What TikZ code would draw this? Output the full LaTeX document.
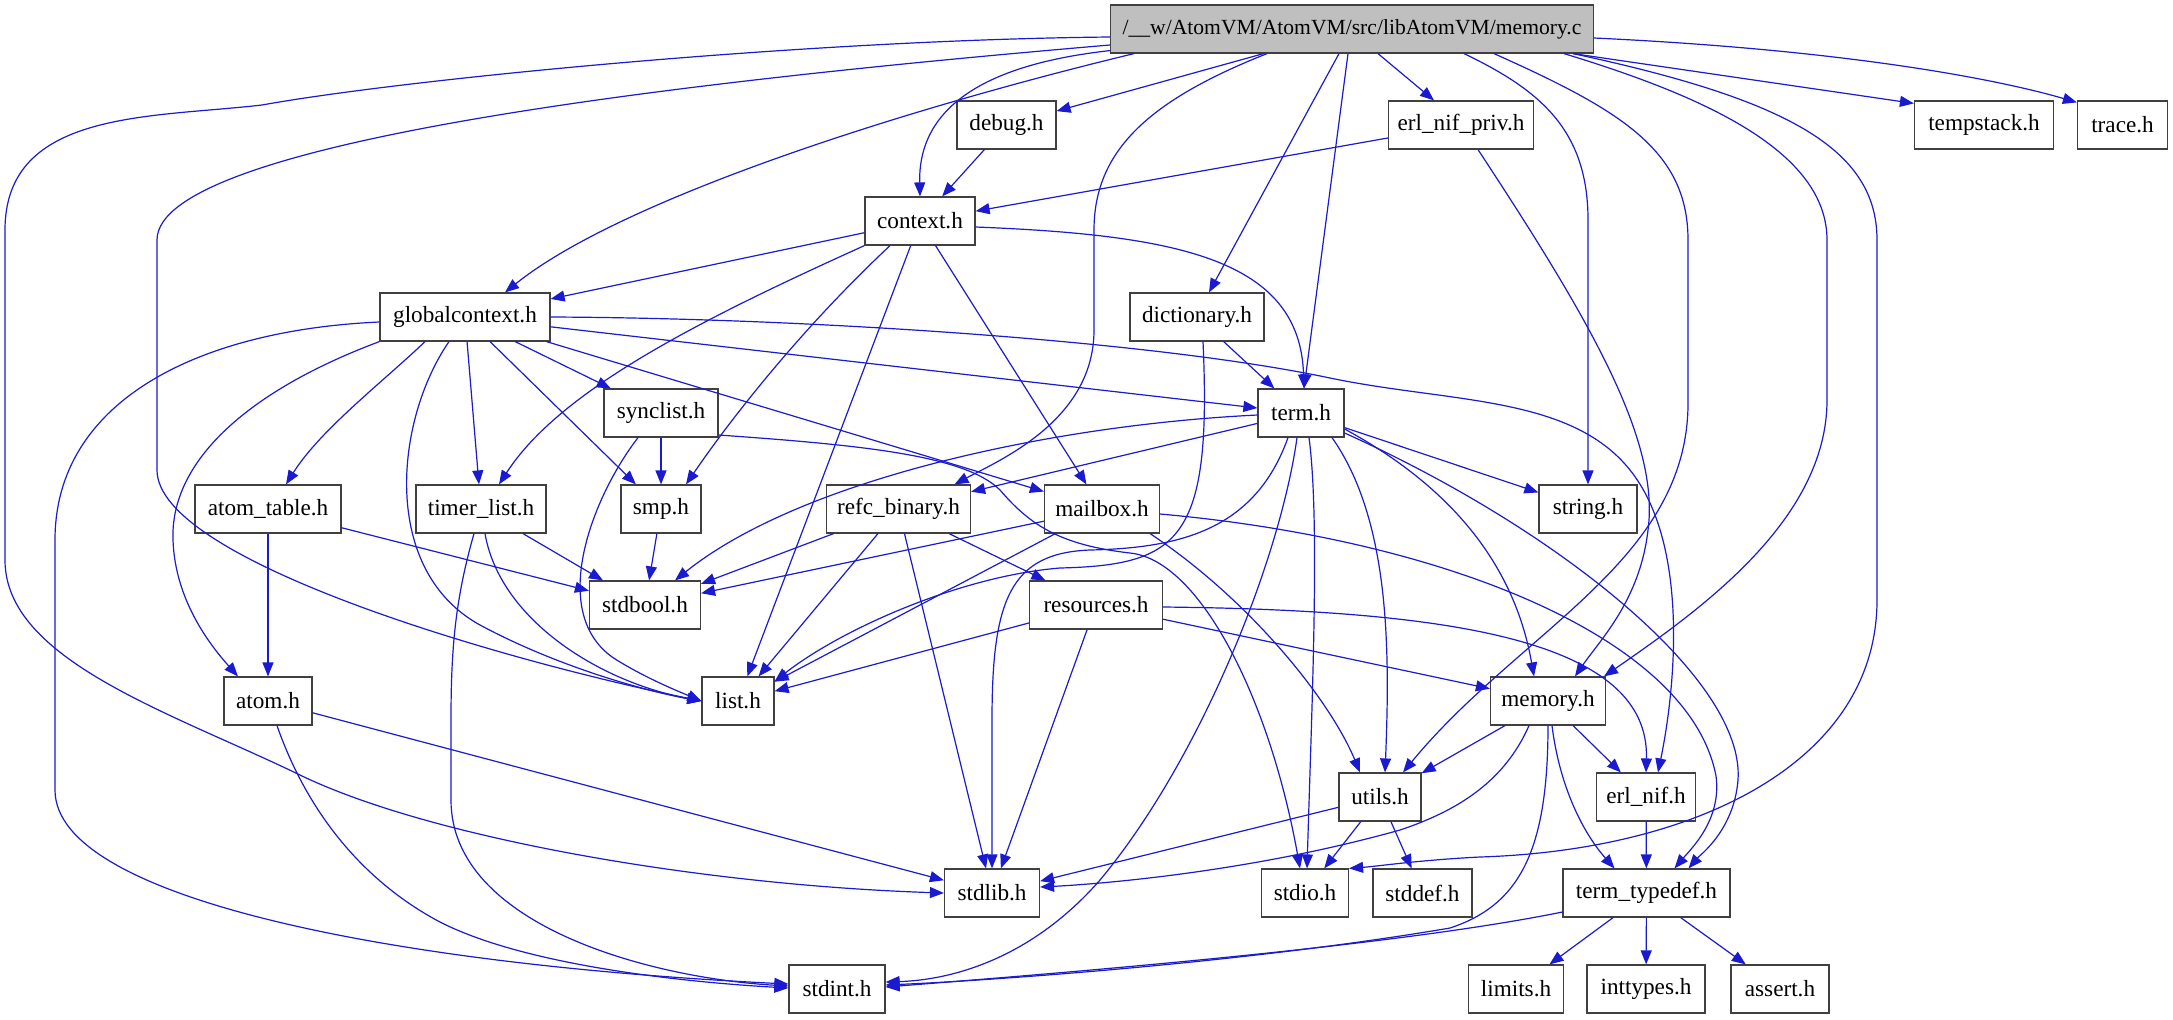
\documentclass[tikz,border=0pt]{standalone}
\usepackage{fontspec}
\setmainfont{Liberation Serif}
\usetikzlibrary{arrows.meta}
\definecolor{edgeblue}{RGB}{26,26,208}
\definecolor{rootgray}{RGB}{191,191,191}
\begin{document}
\begin{tikzpicture}[x=0.5pt, y=-0.5pt,
  hdr/.style={draw=black!75, line width=0.6pt, minimum height=24pt, inner sep=0pt,
    font=\fontsize{11.6}{13}\selectfont},
  inc/.style={draw=edgeblue, line width=0.6pt, -{Triangle[length=7pt,width=5.5pt]}}]
  \useasboundingbox (0,0) rectangle (2173,1019);
  % Rank 0: the source file
  \node[hdr, fill=rootgray, minimum width=241.5pt, font=\fontsize{10.8}{13}\selectfont] (root) at (1352,29) {/\_\_w/AtomVM/AtomVM/src/libAtomVM/memory.c};
  % Rank 1
  \node[hdr, minimum width=49.5pt] (debug) at (1006.5,125) {debug.h};
  \node[hdr, minimum width=72.5pt] (erl_nif_priv) at (1461,125) {erl\_nif\_priv.h};
  \node[hdr, minimum width=69.5pt] (tempstack) at (1984,125) {tempstack.h};
  \node[hdr, minimum width=45pt] (trace) at (2122.5,125) {trace.h};
  % Rank 2
  \node[hdr, minimum width=55pt] (context) at (920,221) {context.h};
  % Rank 3
  \node[hdr, minimum width=85pt] (globalcontext) at (465,317) {globalcontext.h};
  \node[hdr, minimum width=67pt] (dictionary) at (1197,317) {dictionary.h};
  % Rank 4
  \node[hdr, minimum width=57pt] (synclist) at (661,413) {synclist.h};
  \node[hdr, minimum width=43pt] (term) at (1301,413) {term.h};
  % Rank 5
  \node[hdr, minimum width=73pt] (atom_table) at (268,509) {atom\_table.h};
  \node[hdr, minimum width=65pt] (timer_list) at (481,509) {timer\_list.h};
  \node[hdr, minimum width=40pt] (smp) at (661,509) {smp.h};
  \node[hdr, minimum width=72pt] (refc_binary) at (898.5,509) {refc\_binary.h};
  \node[hdr, minimum width=57.5pt] (mailbox) at (1102,509) {mailbox.h};
  \node[hdr, minimum width=49pt] (string) at (1588,509) {string.h};
  % Rank 6
  \node[hdr, minimum width=55.5pt] (stdbool) at (645,605) {stdbool.h};
  \node[hdr, minimum width=66.5pt] (resources) at (1096,605) {resources.h};
  % Rank 7
  \node[hdr, minimum width=44pt] (atom) at (268,701) {atom.h};
  \node[hdr, minimum width=36pt] (list) at (738,701) {list.h};
  \node[hdr, minimum width=57.5pt] (memory) at (1548,701) {memory.h};
  % Rank 8
  \node[hdr, minimum width=41pt] (utils) at (1380,797) {utils.h};
  \node[hdr, minimum width=49.5pt] (erl_nif) at (1646,797) {erl\_nif.h};
  % Rank 9
  \node[hdr, minimum width=47.5pt] (stdlib) at (992,893) {stdlib.h};
  \node[hdr, minimum width=43.5pt] (stdio) at (1305,893) {stdio.h};
  \node[hdr, minimum width=49.5pt] (stddef) at (1422.5,893) {stddef.h};
  \node[hdr, minimum width=83.5pt] (term_typedef) at (1646.5,893) {term\_typedef.h};
  % Rank 10
  \node[hdr, minimum width=48pt] (stdint) at (837,989) {stdint.h};
  \node[hdr, minimum width=47.5pt] (limits) at (1516,989) {limits.h};
  \node[hdr, minimum width=59pt] (inttypes) at (1646,989) {inttypes.h};
  \node[hdr, minimum width=49pt] (assert) at (1780,989) {assert.h};

  % memory.c includes
  \draw[inc] ([yshift=-4pt]root.west) .. controls (800,40) and (400,80) .. (262,105)
    .. controls (150,118) and (5,110) .. (5,230) -- (5,560)
    .. controls (5,660) and (170,712) .. (300,775) .. controls (430,838) and (700,885) .. (stdlib.west);
  \draw[inc] ([yshift=-8pt]root.west) .. controls (700,80) and (157,140) .. (157,240) -- (157,470)
    .. controls (157,560) and (500,660) .. (list.west);
  \draw[inc] ([yshift=1.5pt]root.south west) .. controls (980,65) and (918,110) .. (context.north);
  \draw[inc] ([xshift=-109pt]root.south) .. controls (900,110) and (620,200) .. ([xshift=20pt]globalcontext.north);
  \draw[inc] (root) -- (debug);
  \draw[inc] ([xshift=-42.5pt]root.south) .. controls (1150,100) and (1094,150) .. (1094,230) -- (1094,330)
    .. controls (1094,420) and (1000,460) .. ([xshift=28pt]refc_binary.north);
  \draw[inc] ([xshift=-6.5pt]root.south) -- ([xshift=6pt]dictionary.north);
  \draw[inc] ([xshift=-2pt]root.south) -- ([xshift=1.5pt]term.north);
  \draw[inc] ([xshift=13pt]root.south) -- ([xshift=-13.5pt]erl_nif_priv.north);
  \draw[inc] ([xshift=56pt]root.south) .. controls (1540,90) and (1588,130) .. (1588,220) -- (string.north);
  \draw[inc] ([xshift=71pt]root.south) .. controls (1620,110) and (1688,150) .. (1688,240) -- (1688,400)
    .. controls (1690,560) and (1520,630) .. ([xshift=11.5pt]utils.north);
  \draw[inc] ([xshift=106pt]root.south) .. controls (1700,95) and (1827,150) .. (1827,240) -- (1827,400)
    .. controls (1827,520) and (1700,610) .. ([xshift=28pt]memory.north);
  \draw[inc] ([xshift=110.5pt]root.south) .. controls (1790,100) and (1877,150) .. (1877,240) -- (1877,600)
    .. controls (1877,760) and (1700,850) .. (1480,857) .. controls (1420,860) and (1380,866) .. (stdio.north east);
  \draw[inc] ([xshift=110.5pt]root.south) -- ([yshift=-1.5pt]tempstack.north west);
  \draw[inc] ([yshift=-4.5pt]root.east) .. controls (1850,50) and (2000,80) .. ([yshift=-1pt]trace.north west);

  % debug.h, erl_nif_priv.h
  \draw[inc] (debug) -- (context);
  \draw[inc] (erl_nif_priv) -- (context);
  \draw[inc] ([xshift=8.5pt]erl_nif_priv.south) .. controls (1590,320) and (1660,440) .. (1648,530)
    .. controls (1640,600) and (1600,640) .. ([xshift=13.5pt]memory.north);

  % context.h
  \draw[inc] (context) -- (globalcontext);
  \draw[inc] (context.south west) .. controls (700,320) and (560,390) .. ([xshift=9pt]timer_list.north);
  \draw[inc] ([xshift=-15pt]context.south) .. controls (800,330) and (730,420) .. ([xshift=12.5pt]smp.north);
  \draw[inc] (context) -- (list);
  \draw[inc] (context) -- (mailbox);
  \draw[inc] ([yshift=-3pt]context.east) .. controls (1180,235) and (1300,260) .. ([xshift=1.5pt]term.north);

  % dictionary.h
  \draw[inc] (dictionary) -- (term);
  \draw[inc] ([xshift=3pt]dictionary.south) .. controls (1212,540) and (1180,565) .. (1060,568)
    .. controls (960,576) and (840,630) .. ([yshift=-2.5pt]list.north east);

  % globalcontext.h
  \draw[inc] ([yshift=-2.5pt]globalcontext.west) .. controls (200,330) and (55,400) .. (55,540) -- (55,790)
    .. controls (55,900) and (400,965) .. ([yshift=2.5pt]stdint.west);
  \draw[inc] (globalcontext.south west) .. controls (250,390) and (170,460) .. (173,540)
    .. controls (175,600) and (210,645) .. ([xshift=-15pt]atom.north);
  \draw[inc] ([xshift=-20pt]globalcontext.south) .. controls (385,380) and (320,430) .. ([xshift=9pt]atom_table.north);
  \draw[inc] ([xshift=-8pt]globalcontext.south) .. controls (395,420) and (380,570) .. (480,625)
    .. controls (560,668) and (650,692) .. (list.west);
  \draw[inc] (globalcontext) -- (timer_list);
  \draw[inc] (globalcontext) -- (smp);
  \draw[inc] (globalcontext) -- (synclist);
  \draw[inc] (globalcontext) -- (mailbox);
  \draw[inc] (globalcontext) -- (term);
  \draw[inc] (globalcontext.east) .. controls (800,318) and (1150,340) .. (1330,378)
    .. controls (1450,403) and (1570,395) .. (1630,470)
    .. controls (1690,545) and (1675,690) .. ([xshift=6pt]erl_nif.north);

  % synclist.h
  \draw[inc] (synclist) -- (smp);
  \draw[inc] ([xshift=-11.5pt]synclist.south) .. controls (590,500) and (545,620) .. (620,662)
    .. controls (650,680) and (680,692) .. (list.west);
  \draw[inc] ([yshift=-11pt]synclist.east) .. controls (860,445) and (965,455) .. (1000,490)
    .. controls (1030,525) and (1060,545) .. (1130,553)
    .. controls (1200,560) and (1270,700) .. ([xshift=-2.5pt]stdio.north);

  % term.h
  \draw[inc] ([yshift=-1pt]term.west) .. controls (1050,425) and (800,480) .. ([xshift=15pt]stdbool.north);
  \draw[inc] (term) -- (refc_binary);
  \draw[inc] ([xshift=-6.5pt]term.south) .. controls (1255,530) and (1180,548) .. (1090,550)
    .. controls (1010,553) and (992,600) .. (992,720) -- (stdlib);
  \draw[inc] ([xshift=-2pt]term.south) .. controls (1280,560) and (1200,760) .. (1100,880)
    .. controls (1030,960) and (950,980) .. ([yshift=3.5pt]stdint.east);
  \draw[inc] ([xshift=4pt]term.south) .. controls (1320,520) and (1312,700) .. ([xshift=1pt]stdio.north);
  \draw[inc] ([xshift=15.5pt]term.south) .. controls (1390,520) and (1390,650) .. ([xshift=2.5pt]utils.north);
  \draw[inc] ([yshift=-8pt]term.east) .. controls (1420,470) and (1510,540) .. ([xshift=-7pt]memory.north);
  \draw[inc] (term) -- (string);
  \draw[inc] ([yshift=-10pt]term.east) .. controls (1560,530) and (1745,680) .. (1738,780)
    .. controls (1734,830) and (1700,855) .. ([xshift=21pt]term_typedef.north);

  % mailbox.h
  \draw[inc] (mailbox) -- (list);
  \draw[inc] (mailbox) -- (stdbool);
  \draw[inc] ([xshift=-5pt]mailbox.south east) .. controls (1250,600) and (1330,700) .. ([xshift=-10pt]utils.north);
  \draw[inc] ([yshift=-2.5pt]mailbox.east) .. controls (1450,540) and (1690,640) .. (1716,776)
    .. controls (1722,820) and (1690,850) .. ([xshift=14pt]term_typedef.north);

  % refc_binary.h
  \draw[inc] (refc_binary) -- (stdbool);
  \draw[inc] (refc_binary) -- (list);
  \draw[inc] (refc_binary) -- (stdlib);
  \draw[inc] (refc_binary) -- (resources);

  % resources.h
  \draw[inc] (resources) -- (list);
  \draw[inc] (resources) -- (stdlib);
  \draw[inc] (resources) -- (memory);
  \draw[inc] ([yshift=-1pt]resources.east) .. controls (1450,610) and (1650,640) .. (erl_nif.north);

  % timer_list.h, atom_table.h, atom.h, smp.h
  \draw[inc] (timer_list) -- (stdbool);
  \draw[inc] ([xshift=2pt]timer_list.south) .. controls (500,620) and (600,682) .. (list.west);
  \draw[inc] ([xshift=-3.5pt]timer_list.south) .. controls (455,600) and (451,650) .. (451,720) -- (451,800)
    .. controls (451,925) and (650,978) .. ([yshift=1.5pt]stdint.west);
  \draw[inc] (atom_table) -- (stdbool);
  \draw[inc] (atom_table) -- (atom);
  \draw[inc] (atom) -- (stdlib);
  \draw[inc] ([xshift=4.5pt]atom.south) .. controls (310,820) and (370,885) .. (440,922)
    .. controls (530,968) and (700,983) .. ([yshift=0.5pt]stdint.west);
  \draw[inc] (smp) -- (stdbool);

  % memory.h
  \draw[inc] (memory) -- (utils);
  \draw[inc] (memory) -- (erl_nif);
  \draw[inc] ([xshift=-9.5pt]memory.south) .. controls (1505,780) and (1460,810) .. (1400,830)
    .. controls (1250,872) and (1100,884) .. ([yshift=3pt]stdlib.east);
  \draw[inc] (memory.south) .. controls (1548,850) and (1520,905) .. (1450,928)
    .. controls (1250,962) and (1000,980) .. ([yshift=2pt]stdint.east);
  \draw[inc] ([xshift=2pt]memory.south) .. controls (1560,790) and (1585,835) .. ([xshift=-16pt]term_typedef.north);

  % utils.h, erl_nif.h
  \draw[inc] (utils) -- (stdlib);
  \draw[inc] (utils) -- (stdio);
  \draw[inc] (utils) -- (stddef);
  \draw[inc] (erl_nif) -- (term_typedef);

  % term_typedef.h
  \draw[inc] ([yshift=-9.5pt]term_typedef.west) .. controls (1400,945) and (1100,970) .. ([yshift=1pt]stdint.east);
  \draw[inc] (term_typedef) -- (limits);
  \draw[inc] (term_typedef) -- (inttypes);
  \draw[inc] (term_typedef) -- (assert);
\end{tikzpicture}
\end{document}
